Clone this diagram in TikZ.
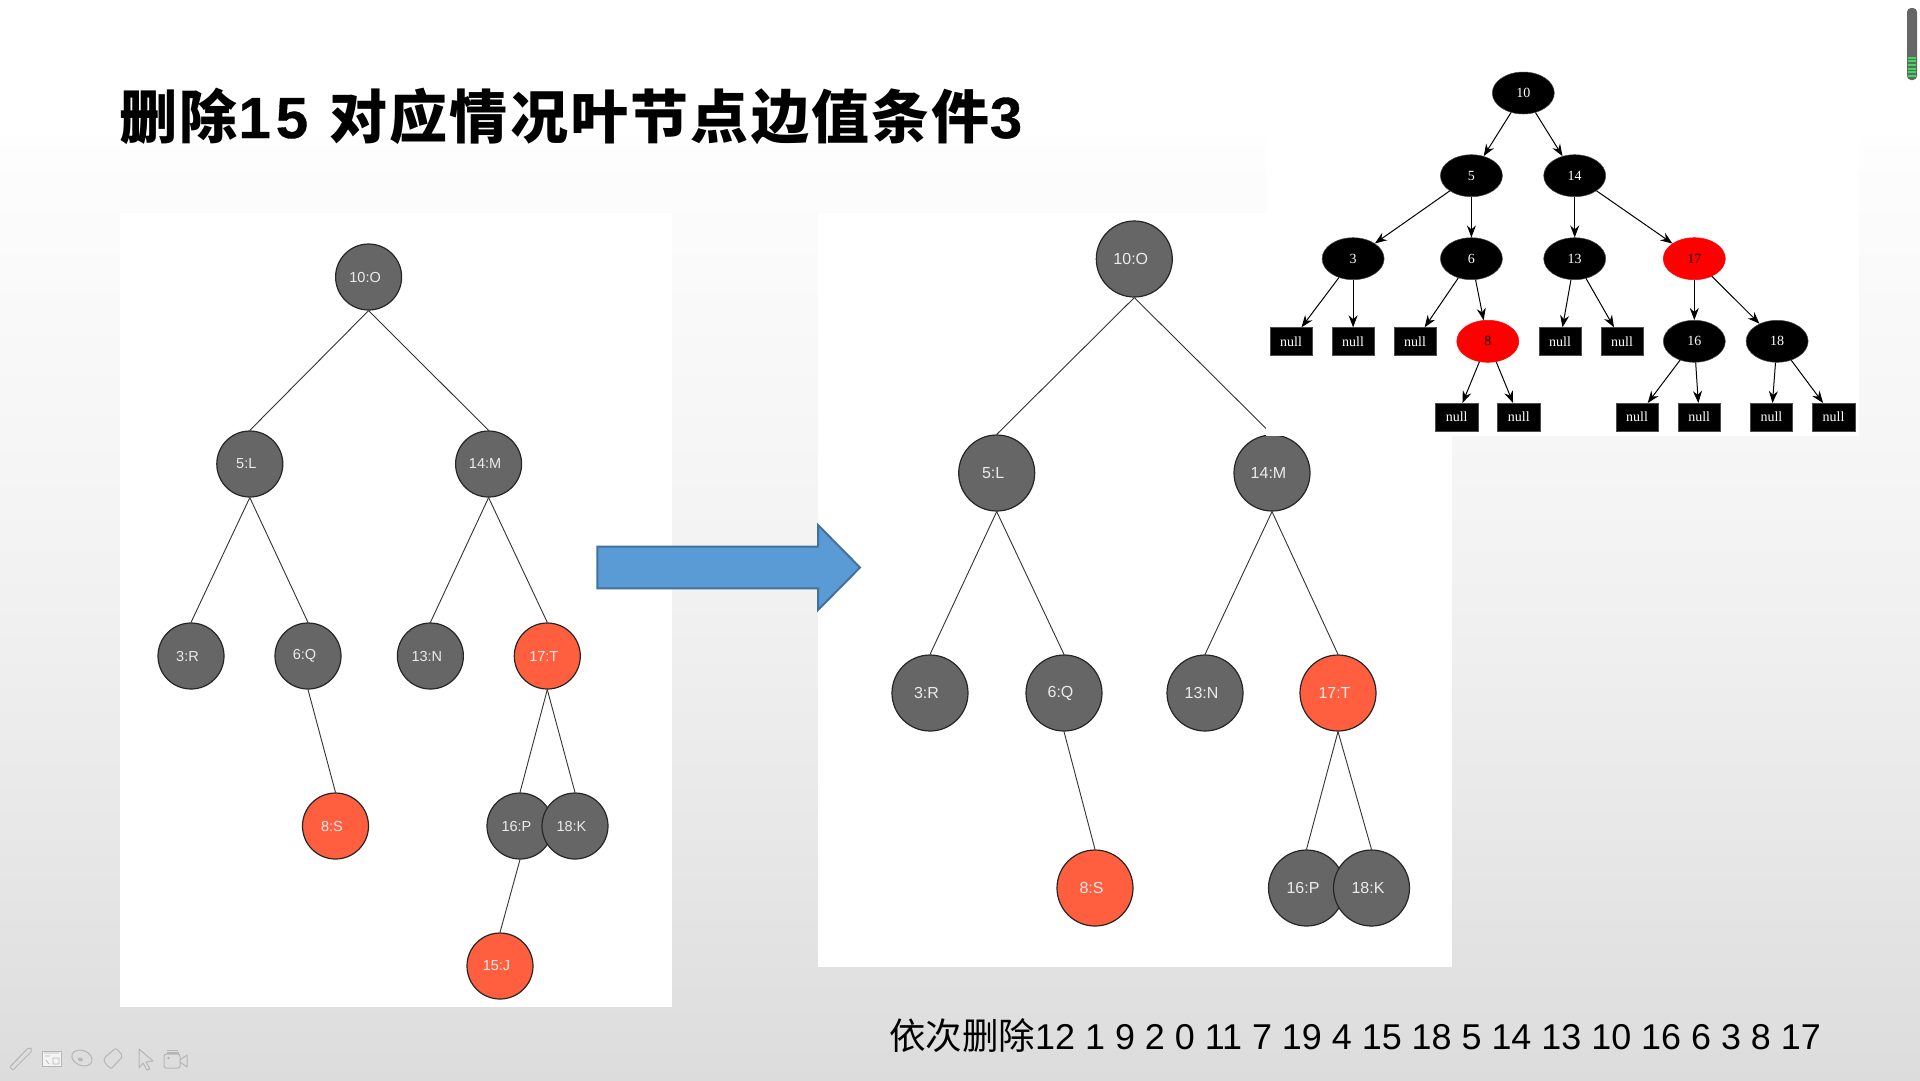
\documentclass[tikz,border=0pt]{standalone}
\usepackage{fontspec}
\usetikzlibrary{arrows.meta,shapes.geometric}
\setmainfont{Liberation Sans}
\newfontfamily\titlecjk[LetterSpace=3.9]{Noto Sans CJK SC}
\newfontfamily\titlelat[LetterSpace=8.8,BoldFeatures={FakeBold=0.6}]{Liberation Sans}
\newfontfamily\bodycjk{Noto Sans CJK SC}
\newfontfamily\timesface{Liberation Serif}
\definecolor{bg0}{HTML}{DCDCDC}
\definecolor{bg1}{HTML}{E0E0E0}
\definecolor{bg2}{HTML}{E9E9E9}
\definecolor{bg3}{HTML}{F1F1F1}
\definecolor{bg4}{HTML}{F6F6F6}
\definecolor{bg5}{HTML}{FDFDFD}
\definecolor{graynode}{HTML}{666666}
\definecolor{rednode}{HTML}{FF5E3F}
\definecolor{arrowfill}{HTML}{5B9BD5}
\definecolor{arrowline}{HTML}{41719C}
\definecolor{icongray}{HTML}{B4B6B4}
\definecolor{meter}{HTML}{35DD58}
% A path fills the middle 50bp of a vertical shading, so the stops run from 25bp to 75bp
\pgfdeclareverticalshading{slidefade}{100bp}{color(0bp)=(bg0); color(25bp)=(bg0); color(28.7bp)=(bg1); color(38bp)=(bg2); color(47.2bp)=(bg3); color(54.8bp)=(bg4); color(68bp)=(bg5); color(69bp)=(white); color(100bp)=(white)}
\tikzset{
  treecircle/.style={circle,draw=black!85,line width=1.2pt,inner sep=0pt},
  leftsize/.style={treecircle,minimum size=66pt},
  rightsize/.style={treecircle,minimum size=76pt},
  leftlabel/.style={inner sep=0pt,text=white!92!black,font=\fontsize{14.5}{15}\selectfont},
  rightlabel/.style={inner sep=0pt,text=white!92!black,font=\fontsize{16}{17}\selectfont},
  branch/.style={draw=black!80,line width=0.9pt},
  rbnode/.style={ellipse,minimum width=62pt,minimum height=42pt,inner sep=0pt,draw=black!70,line width=0.5pt,fill=black,text=white,font=\timesface\fontsize{14}{14}\selectfont},
  rednd/.style={rbnode,fill=red,draw=red,text=black},
  nullbox/.style={rectangle,minimum width=42.5pt,minimum height=27.5pt,inner sep=0pt,draw=black!70,line width=0.5pt,fill=black,text=white,font=\timesface\fontsize{14}{14}\selectfont},
  rblink/.style={draw=black,line width=1pt,-{Stealth[length=12pt,width=9pt]},shorten >=0pt},
  iconline/.style={draw=icongray,line width=1pt,line join=round}
}
% Tree node with its label set slightly left of centre:
% name, x, y, size style, fill, label style, text
\newcommand\treenode[7]{%
  \node[#4,fill=#5] (#1) at (#2,#3) {};
  \node[#6] (#1-text) at ([xshift=-3.5pt]#1.center) {#7};
}
\begin{document}
\begin{tikzpicture}[x=1pt,y=-1pt]
\useasboundingbox (0,0) rectangle (1920,1080);
\shade[shading=slidefade] (0,0) rectangle (1920,1080);

% Panels behind the two trees
\fill[white] (120,213) rectangle (672,1007);
\fill[white] (818,213) rectangle (1452,967);

% Title
\node[anchor=base west,inner sep=0pt] (title) at (119,138)
  {\fontsize{58}{60}\selectfont\bfseries\titlecjk 删除\titlelat\kern 1pt 15 \titlecjk 对应情况叶节点边值条件\titlelat 3};

% Tree before the deletion
\treenode{a10}{368.6}{277}{leftsize}{graynode}{leftlabel}{10:O}
\treenode{a5}{249.8}{464}{leftsize}{graynode}{leftlabel}{5:L}
\treenode{a14}{488.6}{464}{leftsize}{graynode}{leftlabel}{14:M}
\treenode{a3}{191}{656}{leftsize}{graynode}{leftlabel}{3:R}
\treenode{a6}{308}{656}{leftsize}{graynode}{leftlabel}{6:Q}
\treenode{a13}{430.4}{656}{leftsize}{graynode}{leftlabel}{13:N}
\treenode{a17}{547.3}{656}{leftsize}{rednode}{leftlabel}{17:T}
\treenode{a8}{335.5}{826}{leftsize}{rednode}{leftlabel}{8:S}
\treenode{a16}{520}{826}{leftsize}{graynode}{leftlabel}{16:P}
\treenode{a18}{575}{826}{leftsize}{graynode}{leftlabel}{18:K}
\treenode{a15}{500}{966}{leftsize}{rednode}{leftlabel}{15:J}
\draw[branch] (a10.south) -- (a5.north);
\draw[branch] (a10.south) -- (a14.north);
\draw[branch] (a5.south) -- (a3.north);
\draw[branch] (a5.south) -- (a6.north);
\draw[branch] (a14.south) -- (a13.north);
\draw[branch] (a14.south) -- (a17.north);
\draw[branch] (a6.south) -- (a8.north);
\draw[branch] (a17.south) -- (a16.north);
\draw[branch] (a17.south) -- (a18.north);
\draw[branch] (a16.south) -- (a15.north);

% Tree after the deletion
\treenode{b10}{1134.3}{259}{rightsize}{graynode}{rightlabel}{10:O}
\treenode{b5}{996.7}{473}{rightsize}{graynode}{rightlabel}{5:L}
\treenode{b14}{1272}{473}{rightsize}{graynode}{rightlabel}{14:M}
\treenode{b3}{930}{693}{rightsize}{graynode}{rightlabel}{3:R}
\treenode{b6}{1064}{693}{rightsize}{graynode}{rightlabel}{6:Q}
\treenode{b13}{1205}{693}{rightsize}{graynode}{rightlabel}{13:N}
\treenode{b17}{1338}{693}{rightsize}{rednode}{rightlabel}{17:T}
\treenode{b8}{1095}{888}{rightsize}{rednode}{rightlabel}{8:S}
\treenode{b16}{1306.5}{888}{rightsize}{graynode}{rightlabel}{16:P}
\treenode{b18}{1371.5}{888}{rightsize}{graynode}{rightlabel}{18:K}
\draw[branch] (b10.south) -- (b5.north);
\draw[branch] (b10.south) -- (b14.north);
\draw[branch] (b5.south) -- (b3.north);
\draw[branch] (b5.south) -- (b6.north);
\draw[branch] (b14.south) -- (b13.north);
\draw[branch] (b14.south) -- (b17.north);
\draw[branch] (b6.south) -- (b8.north);
\draw[branch] (b17.south) -- (b16.north);
\draw[branch] (b17.south) -- (b18.north);

% Block arrow between the trees
\draw[fill=arrowfill,draw=arrowline,line width=2pt,line join=miter]
  (597.3,546.7) -- (818,546.7) -- (818,525) -- (860,567.5) -- (818,610) -- (818,588.3) -- (597.3,588.3) -- cycle;

% Panel of the red-black tree, laid over the corner of the tree above
\fill[white] (1266,40) rectangle (1859,436);

% Red-black tree with null leaves
\node[rbnode] (c10) at (1523.3,93) {10};
\node[rbnode] (c5) at (1471.4,175.7) {5};
\node[rbnode] (c14) at (1574.7,175.7) {14};
\node[rbnode] (c3) at (1353.1,258.7) {3};
\node[rbnode] (c6) at (1471.4,258.7) {6};
\node[rbnode] (c13) at (1574.7,258.7) {13};
\node[rednd] (c17) at (1694.3,258.7) {17};
\node[rednd] (c8) at (1487.8,341.3) {8};
\node[rbnode] (c16) at (1694.3,341.3) {16};
\node[rbnode] (c18) at (1777.1,341.3) {18};
\node[nullbox] (n1) at (1291,341.3) {null};
\node[nullbox] (n2) at (1353.1,341.3) {null};
\node[nullbox] (n3) at (1415.1,341.3) {null};
\node[nullbox] (n4) at (1560,341.3) {null};
\node[nullbox] (n5) at (1622,341.3) {null};
\node[nullbox] (n6) at (1456.7,417) {null};
\node[nullbox] (n7) at (1518.8,417) {null};
\node[nullbox] (n8) at (1637.1,417) {null};
\node[nullbox] (n9) at (1699.2,417) {null};
\node[nullbox] (n10) at (1771.4,417) {null};
\node[nullbox] (n11) at (1833.5,417) {null};
\draw[rblink] (c10) -- (c5);
\draw[rblink] (c10) -- (c14);
\draw[rblink] (c5) -- (c3);
\draw[rblink] (c5) -- (c6);
\draw[rblink] (c14) -- (c13);
\draw[rblink] (c14) -- (c17);
\draw[rblink] (c3) -- (n1);
\draw[rblink] (c3) -- (n2);
\draw[rblink] (c6) -- (n3);
\draw[rblink] (c6) -- (c8);
\draw[rblink] (c13) -- (n4);
\draw[rblink] (c13) -- (n5);
\draw[rblink] (c17) -- (c16);
\draw[rblink] (c17) -- (c18);
\draw[rblink] (c8) -- (n6);
\draw[rblink] (c8) -- (n7);
\draw[rblink] (c16) -- (n8);
\draw[rblink] (c16) -- (n9);
\draw[rblink] (c18) -- (n10);
\draw[rblink] (c18) -- (n11);

% Deletion order
\node[anchor=base west,inner sep=0pt] (order) at (889,1049)
  {\bodycjk\fontsize{36.5}{40}\selectfont 依次删除\rmfamily\fontsize{35.9}{40}\selectfont 12 1 9 2 0 11 7 19 4 15 18 5 14 13 10 16 6 3 8 17};

% Pen toolbar
\draw[iconline] (10,1067) -- (13,1070) -- (31,1052) -- (31,1048) -- (27,1049) -- cycle;
\draw[iconline,fill=white!50!icongray!30] (42,1051) rectangle (61,1066);
\draw[iconline,line width=0.7pt] (44,1053) -- (59,1053) (45,1056) -- (50,1056) (46,1060) -- (49,1064) (53,1058) rectangle (59,1064);
\draw[iconline,rotate around={-22:(82,1058)}] (82,1058) ellipse (10.5 and 7.5);
\draw[iconline,rotate around={-22:(82,1058)},fill=icongray] (81,1060) ellipse (2 and 1.2);
\draw[iconline,rounded corners=2pt] (104,1058) -- (116,1048) -- (123,1056) -- (111,1069) -- (104,1062) -- cycle;
\draw[iconline] (139,1049) -- (153,1061) -- (146,1062) -- (150,1069) -- (147,1070) -- (143,1063) -- (139,1068) -- cycle;
\draw[iconline,rounded corners=2pt] (164,1054) rectangle (180,1068);
\draw[iconline] (180,1060) -- (187,1055) -- (187,1067) -- (180,1062);
\draw[iconline,line width=1.5pt] (167,1053) -- (179,1053) (167,1050.5) -- (178,1050.5);
\fill[icongray] (168.5,1058) circle (1.3);

% Level indicator at the screen edge
\fill[black!60,rounded corners=4pt] (1907,8) rectangle (1917,80);
\foreach \stripe in {56.5,60.2,63.9,67.6,71.3,75}
  \fill[meter] (1908,\stripe) rectangle (1916,\stripe+2);
\end{tikzpicture}
\end{document}
